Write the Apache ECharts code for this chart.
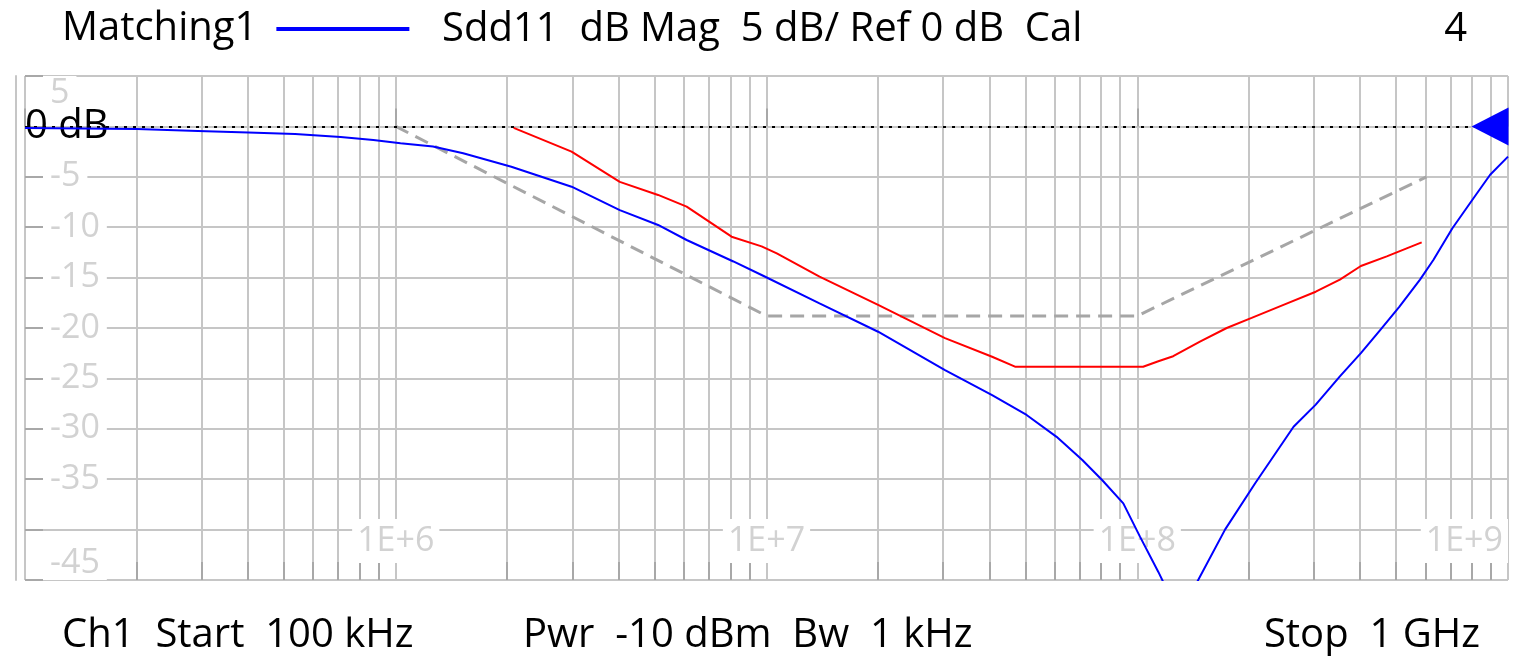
<!DOCTYPE html>
<html>
<head>
<meta charset="utf-8">
<script src="https://cdn.jsdelivr.net/npm/echarts/dist/echarts.min.js"></script>
<style>
html,body{margin:0;padding:0;background:#fff;}
#chart{width:1521px;height:656px;}
</style>
</head>
<body>
<div id="chart"></div>
<script>
// ---- data ----
const xMin = 1e5, xMax = 1e9;
const yMin = -45, yMax = 5, yStep = 5;

// Sdd11 trace (Matching1), frequency in Hz, magnitude in dB
const blueFreq = [1e5, 2e5, 2.93e5, 4e5, 5.35e5, 7.1e5, 8.7e5, 1.03e6, 1.26e6, 1.52e6, 2.05e6, 2.98e6, 4.02e6, 5.1e6, 6.09e6, 8.14e6, 9.7e6, 1.39e7, 2.0e7, 3.03e7, 4.06e7, 5.03e7, 6.06e7, 7.11e7, 8.05e7, 9.17e7, 1.017e8, 1.14e8, 1.3e8, 1.46e8, 1.725e8, 2.08e8, 2.64e8, 3.03e8, 3.52e8, 4.01e8, 4.52e8, 5.09e8, 5.79e8, 6.29e8, 7.08e8, 8.07e8, 8.95e8, 1e9];
const blueDb   = [-0.15, -0.25, -0.45, -0.6, -0.75, -1.05, -1.35, -1.68, -2.0, -2.67, -4.0, -5.98, -8.3, -9.78, -11.27, -13.4, -14.74, -17.55, -20.37, -24.17, -26.65, -28.63, -30.8, -33.1, -35.1, -37.4, -40.7, -44.2, -48.5, -45.0, -40.0, -35.4, -29.8, -27.6, -24.8, -22.5, -20.2, -17.9, -15.2, -13.25, -10.1, -7.13, -4.8, -3.0];

// red limit trace
const redFreq = [2.08e6, 2.98e6, 4.02e6, 5.1e6, 6.09e6, 8.05e6, 9.7e6, 1.066e7, 1.39e7, 2.0e7, 3.03e7, 4.06e7, 4.68e7, 1.037e8, 1.14e8, 1.25e8, 1.476e8, 1.743e8, 2.035e8, 2.48e8, 3.03e8, 3.52e8, 4.01e8, 4.71e8, 5.33e8, 5.85e8];
const redDb   = [-0.15, -2.5, -5.5, -6.8, -7.96, -10.94, -11.9, -12.6, -14.9, -17.7, -21.0, -22.85, -23.84, -23.84, -23.3, -22.8, -21.35, -20.0, -19.0, -17.7, -16.4, -15.2, -13.85, -12.9, -12.1, -11.5];

// grey dashed mask
const maskFreq = [1e6, 1e7, 1e8, 6.03e8];
const maskDb   = [0, -18.8, -18.8, -5.0];

// minor vertical grid lines (2..9 x each decade)
const minorMult = [2, 3, 4, 5, 6, 7, 8, 9];
const decades = [1e5, 1e6, 1e7, 1e8];

const refLevel = 0;
const refLabel = '0 dB';
const legendName = 'Matching1';
const headerText = 'Sdd11  dB Mag  5 dB/ Ref 0 dB  Cal';
const headerRight = '4';
const footerLeft = 'Ch1  Start  100 kHz';
const footerMid = 'Pwr  -10 dBm  Bw  1 kHz';
const footerRight = 'Stop  1 GHz';
const hiddenYLabels = [0, -40];

// ---- build ----
const zip = (a, b) => a.map((v, i) => [v, b[i]]);
const minorFreqs = [];
decades.forEach(d => minorMult.forEach(m => minorFreqs.push([d * m, yMin])));

const FONT = 'Open Sans';
const GRID = '#c6c6c6';
const TICK = '#a8a8a8';
const LBL = '#d2d2d2';
const TXT = 40;
const AX = 34;

const chart = echarts.init(document.getElementById('chart'), null, {renderer: 'canvas'});

const xBase = {type: 'log', logBase: 10, min: xMin, max: xMax, gridIndex: 0, position: 'bottom'};
const yBase = {type: 'value', min: yMin, max: yMax, interval: yStep, gridIndex: 0, position: 'left'};

chart.setOption({
  animation: false,
  backgroundColor: '#ffffff',
  grid: {left: 25, right: 13, top: 76, bottom: 76, containLabel: false, outerBoundsMode: 'none'},
  legend: {
    left: 57, top: 4, align: 'right', orient: 'horizontal',
    itemWidth: 133, itemHeight: 4, icon: 'rect', selectedMode: false,
    data: [legendName],
    textStyle: {fontFamily: FONT, fontSize: TXT, color: '#000', padding: [0, 14, 0, 0]}
  },
  xAxis: [
    Object.assign({}, xBase, {
      z: 0,
      axisLine: {show: false},
      axisTick: {show: true, inside: true, length: 18, lineStyle: {color: TICK, width: 2}},
      axisLabel: {show: false},
      splitLine: {show: true, lineStyle: {color: GRID, width: 2}}
    }),
    Object.assign({}, xBase, {
      z: 3,
      axisLine: {show: false},
      axisTick: {show: false},
      splitLine: {show: false},
      axisLabel: {
        show: true, inside: true, margin: 39, verticalAlign: 'middle',
        color: LBL, fontFamily: FONT, fontSize: AX,
        backgroundColor: '#ffffff', padding: [5, 5],
        showMinLabel: false, alignMaxLabel: 'right',
        formatter: v => '1E+' + Math.round(Math.log10(v))
      }
    })
  ],
  yAxis: [
    Object.assign({}, yBase, {
      z: 0,
      axisLine: {show: false},
      axisTick: {show: true, inside: true, length: 18, lineStyle: {color: TICK, width: 2}},
      axisLabel: {show: false},
      splitLine: {show: true, lineStyle: {color: GRID, width: 2}}
    }),
    Object.assign({}, yBase, {
      z: 3,
      axisLine: {show: false},
      axisTick: {show: false},
      splitLine: {show: false},
      axisLabel: {
        show: true, inside: true, margin: 18, align: 'left',
        color: LBL, fontFamily: FONT, fontSize: AX,
        backgroundColor: '#ffffff', padding: [0, 7],
        verticalAlignMaxLabel: 'top', verticalAlignMinLabel: 'bottom',
        formatter: v => hiddenYLabels.indexOf(v) >= 0 ? '' : String(v)
      }
    }),
    Object.assign({}, yBase, {
      z: 0,
      offset: 9,
      axisLine: {show: true, lineStyle: {color: GRID, width: 2}},
      axisTick: {show: false},
      axisLabel: {show: false},
      splitLine: {show: false}
    })
  ],
  series: [
    {
      type: 'custom', name: 'minorGrid', xAxisIndex: 0, yAxisIndex: 0, z: 1, silent: true,
      data: minorFreqs,
      renderItem: function (params, api) {
        const x = Math.round(api.coord([api.value(0), api.value(1)])[0]);
        const cs = params.coordSys;
        const y0 = cs.y, y1 = cs.y + cs.height;
        return {type: 'group', children: [
          {type: 'line', shape: {x1: x, y1: y0, x2: x, y2: y1}, style: {stroke: GRID, lineWidth: 2}},
          {type: 'line', shape: {x1: x, y1: y1 - 18, x2: x, y2: y1}, style: {stroke: TICK, lineWidth: 2}}
        ]};
      }
    },
    {
      type: 'line', name: 'Mask', xAxisIndex: 0, yAxisIndex: 0, z: 4,
      data: zip(maskFreq, maskDb), symbol: 'none', clip: true,
      lineStyle: {color: '#a6a6a6', width: 3, type: [14, 8]}, color: '#a6a6a6'
    },
    {
      type: 'line', name: 'Limit', xAxisIndex: 0, yAxisIndex: 0, z: 5,
      data: zip(redFreq, redDb), symbol: 'none', clip: true,
      lineStyle: {color: '#ff0000', width: 2}, color: '#ff0000'
    },
    {
      type: 'line', name: legendName, xAxisIndex: 0, yAxisIndex: 0, z: 6,
      data: zip(blueFreq, blueDb), symbol: 'none', clip: true,
      lineStyle: {color: '#0000ff', width: 2}, color: '#0000ff',
      markLine: {
        silent: true, symbol: ['none', 'none'], precision: 2,
        lineStyle: {color: '#000', type: [3, 6], width: 2},
        label: {show: true, position: 'insideStart', distance: 0, formatter: refLabel,
                color: '#000', fontFamily: FONT, fontSize: 40},
        data: [{yAxis: refLevel}]
      },
      markPoint: {
        silent: true, symbol: 'triangle', symbolRotate: 90, symbolSize: [38, 37], symbolOffset: [-18, 0],
        itemStyle: {color: '#0000ff'}, label: {show: false},
        data: [{coord: [xMax, refLevel]}]
      }
    }
  ],
  graphic: [
    {type: 'text', x: 442, y: 30, silent: true, style: {text: headerText, fontFamily: FONT, fontSize: TXT, fill: '#000', align: 'left', verticalAlign: 'middle'}},
    {type: 'text', x: 1467, y: 30, silent: true, style: {text: headerRight, fontFamily: FONT, fontSize: TXT, fill: '#000', align: 'right', verticalAlign: 'middle'}},
    {type: 'text', x: 62, y: 636, silent: true, style: {text: footerLeft, fontFamily: FONT, fontSize: TXT, fill: '#000', align: 'left', verticalAlign: 'middle'}},
    {type: 'text', x: 523, y: 636, silent: true, style: {text: footerMid, fontFamily: FONT, fontSize: TXT, fill: '#000', align: 'left', verticalAlign: 'middle'}},
    {type: 'text', x: 1480, y: 636, silent: true, style: {text: footerRight, fontFamily: FONT, fontSize: TXT, fill: '#000', align: 'right', verticalAlign: 'middle'}}
  ]
});
</script>
</body>
</html>
